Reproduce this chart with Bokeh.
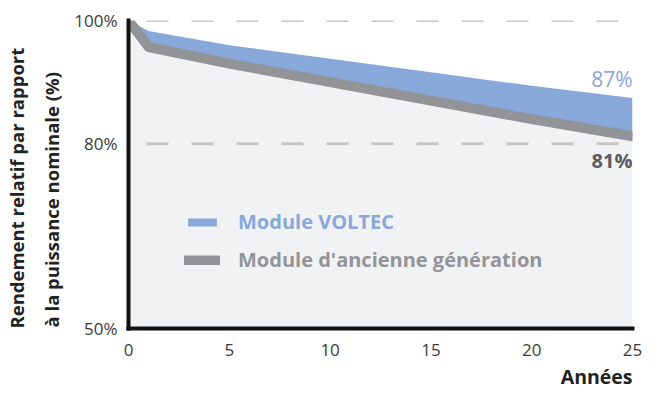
from bokeh.plotting import figure
from bokeh.models import FixedTicker, Legend, LegendItem, Label, Title, Range1d, Span
from bokeh.embed import file_html
from bokeh.resources import INLINE

# ---- data ----
years = [0, 1, 5, 10, 15, 20, 25]
voltec = [100, 98.3, 96.0, 93.8, 91.6, 89.4, 87.4]
ancien = [100, 95.7, 93.0, 90.0, 87.0, 84.0, 81.2]
x_ticks = [0, 5, 10, 15, 20, 25]
y_ticks = [50, 80, 100]
y_tick_labels = ["50%", "80%", "100%"]
grid_ticks = [80, 100]
series_names = ["Module VOLTEC", "Module d'ancienne génération"]
end_labels = ["87%", "81%"]
y_title = ["Rendement relatif par rapport", "à la puissance nominale (%)"]
x_title = "Années"

BLUE = "#88a8d9"
GRAY = "#939498"
FILL = "#f1f2f4"
FONT = "Open Sans"

p = figure(width=643, height=391, output_backend="svg", toolbar_location=None,
           x_range=Range1d(years[0], years[-1]), y_range=Range1d(y_ticks[0], y_ticks[-1]),
           min_border_left=128, min_border_right=11, min_border_top=20,
           min_border_bottom=61)
p.outline_line_color = None
p.background_fill_color = "white"
p.border_fill_color = "white"

blue_band = p.varea(x=years, y1=ancien, y2=voltec, fill_color=BLUE)
p.varea(x=years, y1=[y_ticks[0]] * len(years), y2=ancien, fill_color=FILL)
p.renderers.remove(blue_band)
p.renderers.append(blue_band)
old_line = p.line(x=years, y=ancien, line_color=GRAY, line_width=10,
                  line_cap="round", line_join="round")

# axes
for ax in (p.xaxis[0], p.yaxis[0]):
    ax.axis_line_color = "#111111"
    ax.axis_line_width = 4
    ax.axis_line_cap = "square"
    ax.major_tick_line_color = None
    ax.minor_tick_line_color = None
    ax.major_label_text_font = FONT
    ax.major_label_text_font_size = "17px"
    ax.major_label_text_color = "#3a3a3a"
p.xaxis.ticker = FixedTicker(ticks=x_ticks)
p.yaxis.ticker = FixedTicker(ticks=y_ticks)
p.yaxis.major_label_overrides = {t: l for t, l in zip(y_ticks, y_tick_labels)}
p.xaxis.major_label_standoff = 9
p.yaxis.major_label_standoff = 5

# dashed reference lines
p.xgrid.visible = False
p.ygrid.visible = False
for g in grid_ticks:
    p.add_layout(Span(location=g, dimension="width", line_color="#c6c6c6",
                      line_width=3, line_dash="22 23", line_dash_offset=27))

# axis titles
t2 = Title(text=y_title[1], align="left", text_font=FONT, text_font_size="18.5px",
           text_font_style="bold", text_color="#222222", standoff=13)
try:
    t2.padding = 1
except Exception:
    pass
p.add_layout(t2, "left")
p.add_layout(Title(text=y_title[0], align="left", text_font=FONT,
                   text_font_size="18.5px", text_font_style="bold",
                   text_color="#222222", standoff=2), "left")
p.add_layout(Title(text=x_title, align="right", text_font=FONT,
                   text_font_size="19.5px", text_font_style="bold",
                   text_color="#222222", standoff=4), "below")

# legends
def make_legend(name, rend, color, loc):
    lg = Legend(items=[LegendItem(label=name, renderers=[rend])], location=loc,
                orientation="vertical", margin=0, padding=0,
                border_line_color=None, background_fill_alpha=0,
                glyph_width=36, glyph_height=10, label_height=10,
                label_standoff=18, label_text_font=FONT,
                label_text_font_size="20px", label_text_font_style="bold",
                label_text_color=color, label_text_baseline="middle")
    p.add_layout(lg, "center")

make_legend(series_names[0], blue_band, BLUE, (56, 93))
make_legend(series_names[1], old_line, GRAY, (56, 55))

# end labels
p.add_layout(Label(x=years[-1], y=voltec[-1], text=end_labels[0], text_align="right",
                   text_baseline="middle", y_offset=19, text_font=FONT,
                   text_font_size="21px", text_color=BLUE))
p.add_layout(Label(x=years[-1], y=ancien[-1], text=end_labels[1], text_align="right",
                   text_baseline="middle", y_offset=-24, text_font=FONT,
                   text_font_size="20px", text_font_style="bold", text_color="#5a5b5e"))

open("out.html", "w").write(file_html(p, INLINE))
